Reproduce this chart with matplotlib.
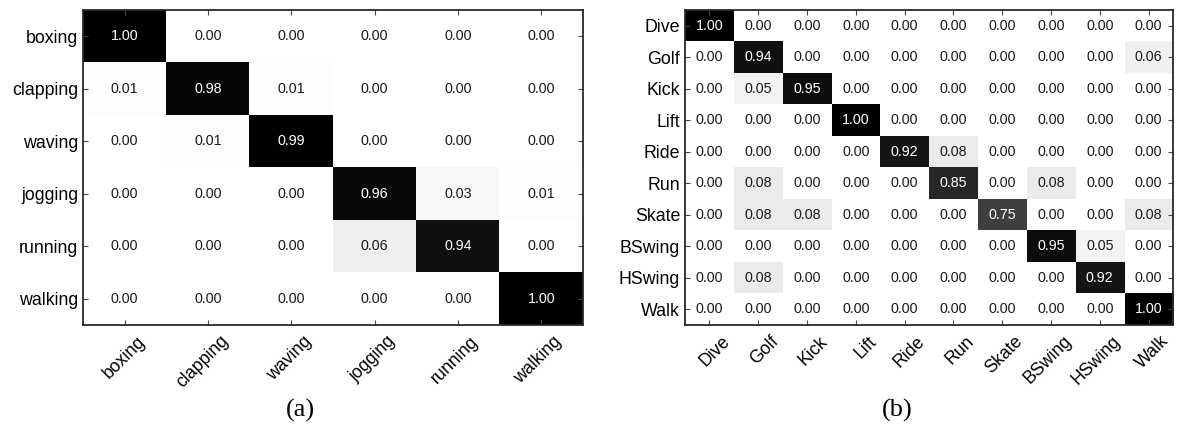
import numpy as np
import matplotlib
matplotlib.use("Agg")
import matplotlib.pyplot as plt
from matplotlib.transforms import ScaledTranslation

plt.rcParams["font.family"] = ["Liberation Sans", "DejaVu Sans"]

# KTH actions
kth_labels = ["boxing", "clapping", "waving", "jogging", "running", "walking"]
kth_conf = [
    [1.00, 0.00, 0.00, 0.00, 0.00, 0.00],
    [0.01, 0.98, 0.01, 0.00, 0.00, 0.00],
    [0.00, 0.01, 0.99, 0.00, 0.00, 0.00],
    [0.00, 0.00, 0.00, 0.96, 0.03, 0.01],
    [0.00, 0.00, 0.00, 0.06, 0.94, 0.00],
    [0.00, 0.00, 0.00, 0.00, 0.00, 1.00],
]

# UCF sports actions
ucf_labels = ["Dive", "Golf", "Kick", "Lift", "Ride", "Run", "Skate",
              "BSwing", "HSwing", "Walk"]
ucf_conf = [
    [1.00, 0.00, 0.00, 0.00, 0.00, 0.00, 0.00, 0.00, 0.00, 0.00],
    [0.00, 0.94, 0.00, 0.00, 0.00, 0.00, 0.00, 0.00, 0.00, 0.06],
    [0.00, 0.05, 0.95, 0.00, 0.00, 0.00, 0.00, 0.00, 0.00, 0.00],
    [0.00, 0.00, 0.00, 1.00, 0.00, 0.00, 0.00, 0.00, 0.00, 0.00],
    [0.00, 0.00, 0.00, 0.00, 0.92, 0.08, 0.00, 0.00, 0.00, 0.00],
    [0.00, 0.08, 0.00, 0.00, 0.00, 0.85, 0.00, 0.08, 0.00, 0.00],
    [0.00, 0.08, 0.08, 0.00, 0.00, 0.00, 0.75, 0.00, 0.00, 0.08],
    [0.00, 0.00, 0.00, 0.00, 0.00, 0.00, 0.00, 0.95, 0.05, 0.00],
    [0.00, 0.08, 0.00, 0.00, 0.00, 0.00, 0.00, 0.00, 0.92, 0.00],
    [0.00, 0.00, 0.00, 0.00, 0.00, 0.00, 0.00, 0.00, 0.00, 1.00],
]

W, H = 1177, 428
fig = plt.figure(figsize=(W / 100, H / 100), dpi=100)


def px_axes(x0, y0, x1, y1):
    """Axes from pixel box (top-left origin)."""
    return fig.add_axes([x0 / W, 1 - y1 / H, (x1 - x0) / W, (y1 - y0) / H])


def conf_panel(ax, mat, labels):
    mat = np.asarray(mat)
    n = len(labels)
    ax.imshow(mat, cmap="gray_r", vmin=0, vmax=1, aspect="auto",
              interpolation="nearest")
    for i in range(n):
        for j in range(n):
            v = mat[i, j]
            ax.text(j, i, f"{v:.2f}", ha="center", va="center", fontsize=10.3,
                    color="white" if v > 0.5 else "#1a1a1a")
    ax.set_xticks(range(n))
    ax.set_yticks(range(n))
    ax.set_yticklabels(labels, fontsize=12.8)
    ax.set_xticklabels(labels, fontsize=12.8, rotation=45, ha="right",
                       va="top", rotation_mode="anchor")
    ax.tick_params(direction="in", top=True, right=True, length=3.5,
                   width=0.8, color="#444444", pad=3.5)
    ax.tick_params(axis="x", pad=5.5)
    shift = ScaledTranslation(12 / 100, 0, fig.dpi_scale_trans)
    for lbl in ax.get_xticklabels():
        lbl.set_transform(lbl.get_transform() + shift)
    for sp in ax.spines.values():
        sp.set_linewidth(1.3)
        sp.set_color("#2a2a2a")


ax_a = px_axes(83, 10, 583, 325)
conf_panel(ax_a, kth_conf, kth_labels)

ax_b = px_axes(685, 10, 1173, 325)
conf_panel(ax_b, ucf_conf, ucf_labels)

fig.text(300 / W, 1 - 410 / H, "(a)", ha="center", va="center",
         fontsize=19, family="Liberation Serif")
fig.text(897 / W, 1 - 410 / H, "(b)", ha="center", va="center",
         fontsize=19, family="Liberation Serif")

fig.savefig("out.png", dpi=100)
